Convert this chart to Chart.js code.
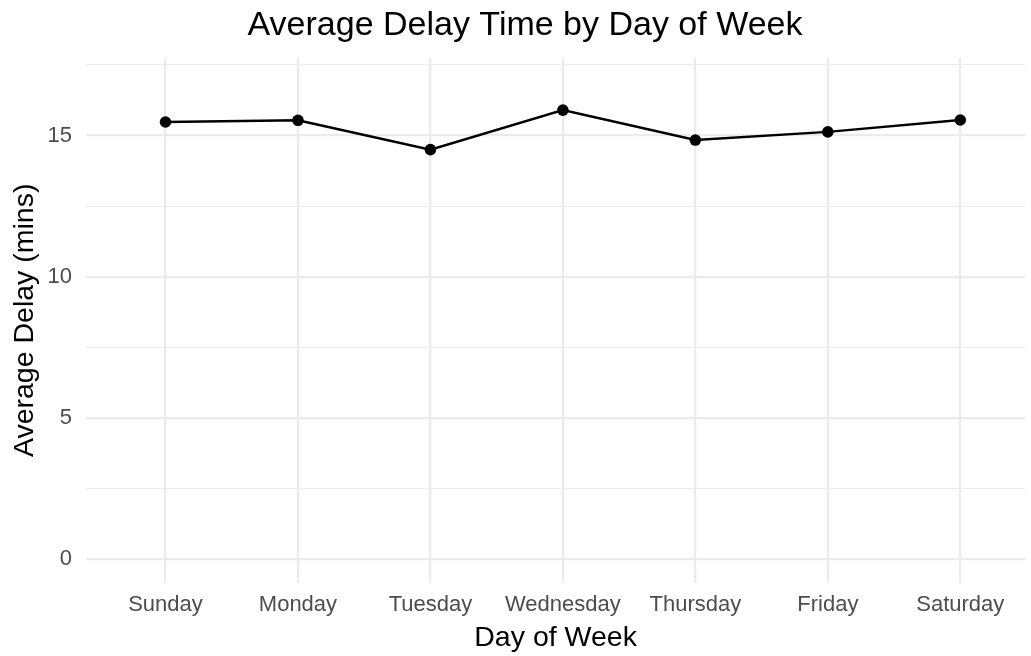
<!DOCTYPE html>
<html>
<head>
<meta charset="utf-8">
<script src="https://cdn.jsdelivr.net/npm/chart.js@4.4.1/dist/chart.umd.min.js"></script>
<style>
  html, body { margin: 0; padding: 0; background: #ffffff; }
  #wrap { width: 1031px; height: 656px; }
</style>
</head>
<body>
<div id="wrap"><canvas id="c" width="1031" height="656"></canvas></div>
<script>
const days = ["Sunday", "Monday", "Tuesday", "Wednesday", "Thursday", "Friday", "Saturday"];
const avgDelay = [15.48, 15.54, 14.50, 15.90, 14.84, 15.13, 15.55];
const yTicks = [0, 2.5, 5, 7.5, 10, 12.5, 15, 17.5];
const yMajor = [0, 5, 10, 15];
const chartTitle = "Average Delay Time by Day of Week";
const xTitle = "Day of Week";
const yTitle = "Average Delay (mins)";

const FONT = "'Liberation Sans', Arial, Helvetica, sans-serif";

const titlePlugin = {
  id: 'ggTitle',
  afterDraw(chart) {
    const ctx = chart.ctx;
    ctx.save();
    ctx.fillStyle = '#000000';
    ctx.font = '34px ' + FONT;
    ctx.textAlign = 'center';
    ctx.textBaseline = 'alphabetic';
    ctx.fillText(chartTitle, 525, 35);
    ctx.restore();
  }
};

const points = avgDelay.map((v, i) => ({ x: i, y: v }));

new Chart(document.getElementById('c'), {
  type: 'line',
  data: {
    datasets: [{
      data: points,
      borderColor: '#000000',
      backgroundColor: '#000000',
      borderWidth: 2.5,
      pointRadius: 5.8,
      pointBackgroundColor: '#000000',
      pointBorderWidth: 0,
      tension: 0,
      fill: false
    }]
  },
  options: {
    responsive: false,
    devicePixelRatio: 1,
    animation: false,
    layout: { padding: { top: 58, left: 0, right: 0, bottom: 0 } },
    plugins: { legend: { display: false }, tooltip: { enabled: false }, title: { display: false } },
    scales: {
      x: {
        type: 'linear',
        min: -0.6,
        max: 6.49,
        afterBuildTicks(scale) { scale.ticks = days.map((d, i) => ({ value: i })); },
        afterFit(scale) { scale.height = 73.3; },
        border: { display: false },
        grid: { color: '#EBEBEB', lineWidth: 2.2, drawTicks: false },
        ticks: {
          autoSkip: false,
          maxRotation: 0,
          padding: 9,
          color: '#4D4D4D',
          font: { family: FONT, size: 22 },
          callback: (v) => days[v] !== undefined ? days[v] : ''
        },
        title: {
          display: true,
          text: xTitle,
          color: '#000000',
          font: { family: FONT, size: 28.5 },
          padding: { top: 0, bottom: 1 }
        }
      },
      y: {
        min: -0.828,
        max: 17.745,
        afterBuildTicks(scale) { scale.ticks = yTicks.map(v => ({ value: v })); },
        afterFit(scale) { scale.width = 86; },
        border: { display: false },
        grid: {
          color: '#EBEBEB',
          drawTicks: false,
          lineWidth: (c) => (c.tick && yMajor.includes(c.tick.value)) ? 2.2 : 1.1
        },
        ticks: {
          padding: 14,
          color: '#4D4D4D',
          font: { family: FONT, size: 22 },
          callback: (v) => yMajor.includes(v) ? String(v) : ''
        },
        title: {
          display: true,
          text: yTitle,
          color: '#000000',
          font: { family: FONT, size: 28.5 },
          padding: { top: 8, bottom: 0 }
        }
      }
    }
  },
  plugins: [titlePlugin]
});
</script>
</body>
</html>
